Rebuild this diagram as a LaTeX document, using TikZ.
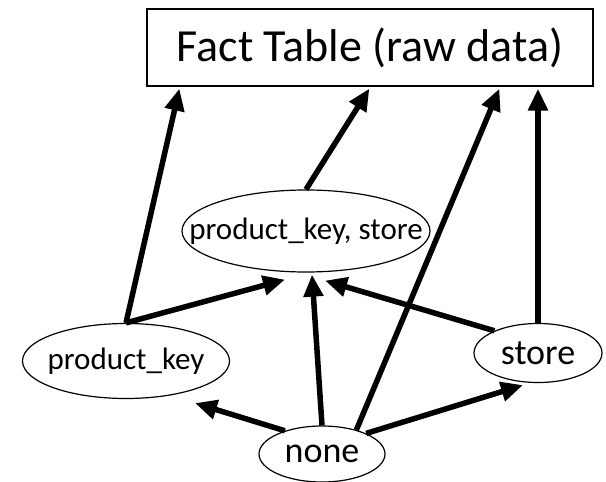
\documentclass[tikz,border=0pt]{standalone}
\usepackage{fontspec}
\setmainfont{Carlito}
\usepackage{tikz}
\usetikzlibrary{shapes.geometric, arrows.meta, calc}

\begin{document}
\begin{tikzpicture}[
  x=1pt, y=-1pt,
  table/.style={rectangle, draw=black, line width=1.2pt, inner sep=0pt,
                minimum width=446pt, minimum height=77pt,
                font=\fontsize{46}{50}\selectfont},
  group/.style={ellipse, draw=black, line width=1.2pt, inner sep=0pt,
                label={[font=\fontsize{36}{40}\selectfont]center:#1}},
  smallgroup/.style={ellipse, draw=black, line width=1.2pt, inner sep=0pt,
                label={[font=\fontsize{31}{35}\selectfont]center:#1}},
  arr/.style={-{Triangle[length=22pt,width=19pt]}, line width=5.5pt, black}
]
  \useasboundingbox (0,0) rectangle (606,482);

  \node[table] (fact) at (370,47.5) {Fact Table (raw data)};
  \node[smallgroup={product\_key, store}, minimum width=248pt, minimum height=82pt] (both) at (306,231) {};
  \node[smallgroup={product\_key}, minimum width=207pt, minimum height=75pt] (pk) at (126,361) {};
  \node[group={store}, minimum width=128pt, minimum height=59pt] (st) at (538,353) {};
  \node[group={none}, minimum width=126pt, minimum height=56pt] (none) at (322,454) {};

  % up to the fact table
  \draw[arr] (pk.north)   -- ([xshift=33pt,yshift=-2pt]fact.south west);
  \draw[arr] (both.north) -- ([xshift=223pt,yshift=-2pt]fact.south west);
  \draw[arr] (none.35)    -- ([xshift=353pt,yshift=-2pt]fact.south west);
  \draw[arr] (st.north)   -- ([yshift=-2pt]st.north |- fact.south);

  % up to product_key, store
  \draw[arr] (pk.north)   -- ([xshift=-21pt,yshift=-7pt]both.south);
  \draw[arr] (none.north) -- ([xshift=6pt,yshift=-2pt]both.south);
  \draw[arr] (st.153)     -- ([xshift=19pt,yshift=-8pt]both.south);

  % from none
  \draw[arr] (none.148)   -- ([xshift=69pt,yshift=-4pt]pk.south);
  \draw[arr] (none.25)    -- ([xshift=-15pt,yshift=-2pt]st.south);
\end{tikzpicture}
\end{document}
